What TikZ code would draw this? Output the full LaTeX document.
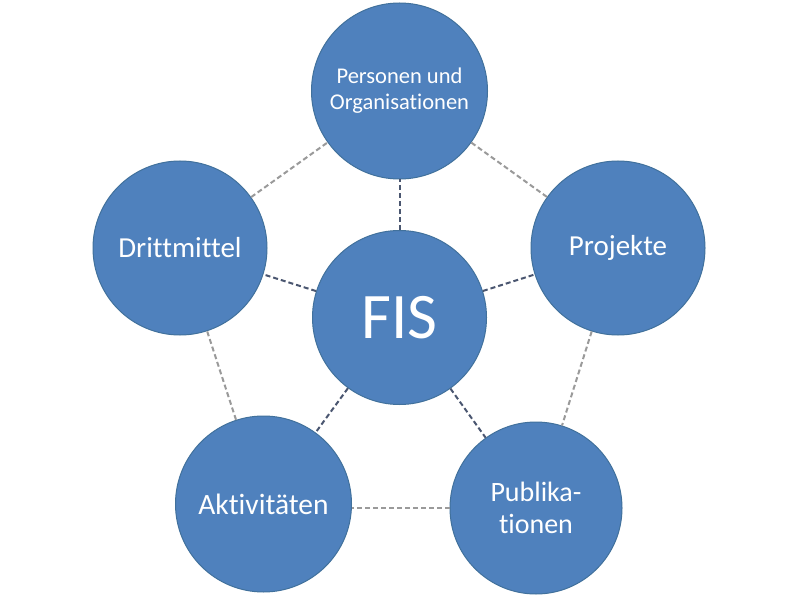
\documentclass[tikz,border=0pt]{standalone}
\usepackage{fontspec}
\setmainfont{Carlito}[Ligatures={NoCommon}]
\definecolor{circfill}{HTML}{4F81BD}
\definecolor{circedge}{HTML}{41719C}
\definecolor{spoke}{HTML}{4A5670}
\definecolor{rim}{HTML}{9A9A9A}
\begin{document}
\begin{tikzpicture}[x=1pt,y=-1pt,
  bub/.style={circle, fill=circfill, draw=circedge, line width=1pt, inner sep=0pt,
    minimum size=#1, text=white, align=center},
  spokeline/.style={draw=spoke, line width=2pt, dash pattern=on 5pt off 3pt},
  rimline/.style={draw=rim, line width=2pt, dash pattern=on 5pt off 3pt}]
\useasboundingbox[fill=white] (0,0) rectangle (800,596);
\node[bub=176pt, font=\fontsize{22.5}{26}\selectfont] (pers) at (399.5,91) {Personen und\\Organisationen};
\node[bub=174pt, font=\fontsize{65}{70}\selectfont] (fis) at (399.5,317.5) {FIS};
\node[bub=174pt, font=\fontsize{29}{33}\selectfont] (proj) at (618,248) {Projekte};
\node[bub=174pt, font=\fontsize{29}{33}\selectfont] (dritt) at (180,248) {Drittmittel};
\node[bub=176pt, font=\fontsize{29.5}{33}\selectfont] (akt) at (263.5,504) {Aktivitäten};
\node[bub=172pt, font=\fontsize{28}{32}\selectfont] (pub) at (536,508) {Publika-\\tionen};
\draw[spokeline] (fis) -- (pers);
\draw[spokeline] (fis) -- (proj);
\draw[spokeline] (fis) -- (dritt);
\draw[spokeline] (fis) -- (akt);
\draw[spokeline] (fis) -- (pub);
\draw[rimline] (pers) -- (proj);
\draw[rimline] (proj) -- (pub);
\draw[rimline] (pub.180) -- (akt.0 |- pub.180);
\draw[rimline] (akt) -- (dritt);
\draw[rimline] (dritt) -- (pers);
\end{tikzpicture}
\end{document}
